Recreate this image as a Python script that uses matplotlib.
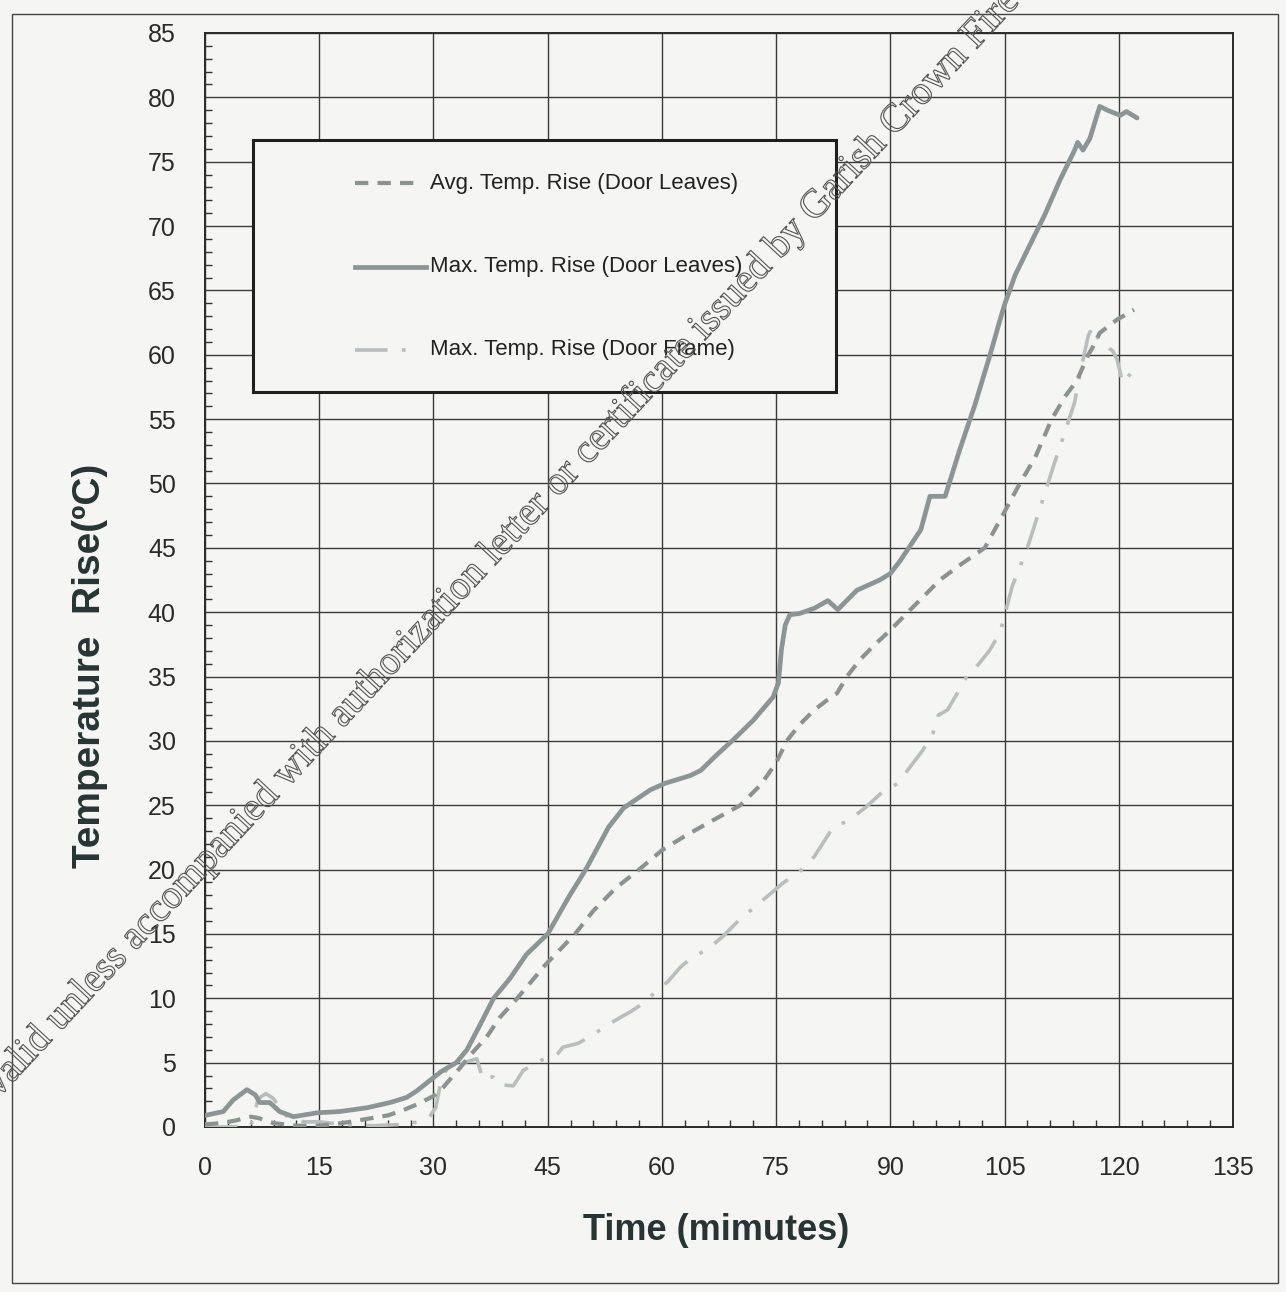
import matplotlib
matplotlib.use("Agg")
import matplotlib.pyplot as plt
import matplotlib.patheffects as pe
from matplotlib.patches import Rectangle
from matplotlib.lines import Line2D
from matplotlib.ticker import MultipleLocator

# === DATA ===
t_max = [0, 2.4, 3.7, 5.5, 6.6, 7.2, 8.5, 9.8, 11.6, 14.7, 17.7, 21.3, 24.3, 26.5, 27.8,
         29.5, 31, 33, 34.4, 36, 37.9, 40, 42.2, 45, 47.9, 50, 53, 55, 58.5, 60.4,
         63.7, 65.1, 67, 69.4, 72, 74.6, 75.3, 75.7, 76.2, 76.8, 78.1, 80, 81.8, 83.1,
         85.6, 88.6, 90, 91.3, 94, 95.2, 97.2, 99.1, 101.1, 103.1, 104.4, 105, 106.4,
         108.3, 110.3, 112.3, 114.2, 114.6, 115.3, 116.2, 117.5, 118.5, 120.2, 121, 122.4]
max_leaves = [0.9, 1.2, 2.1, 2.9, 2.5, 1.9, 1.9, 1.2, 0.8, 1.1, 1.2, 1.5, 1.9, 2.3, 2.8,
              3.6, 4.3, 5.0, 6.0, 7.8, 10.0, 11.5, 13.4, 15.0, 18.0, 20.0, 23.3, 24.8, 26.2, 26.7,
              27.3, 27.7, 28.8, 30.1, 31.6, 33.4, 34.5, 37.1, 39.0, 39.8, 39.9, 40.3, 40.9, 40.2,
              41.7, 42.5, 43.0, 44.0, 46.4, 49.0, 49.0, 52.6, 56.1, 60.0, 62.7, 63.9, 66.2,
              68.5, 70.9, 73.6, 75.9, 76.5, 75.9, 76.8, 79.3, 79.0, 78.6, 78.9, 78.4]

t_avg = [0, 2, 4, 6, 7, 9, 12, 15, 18, 20, 22, 24, 26, 28, 30, 31.3, 33.5, 35, 37, 38.7,
         41, 44.7, 48.6, 51, 54, 57, 60, 63, 66, 70.3, 73, 75, 76.4, 78, 80, 82, 83,
         84.3, 86, 88, 90, 92.3, 94, 96.5, 99, 102.4, 105, 107, 109, 111.2, 113, 114.5,
         116, 116.6, 117.5, 119.7, 122]
avg_leaves = [0.2, 0.3, 0.5, 0.8, 0.7, 0.3, 0.1, 0.1, 0.3, 0.5, 0.7, 0.9, 1.3, 1.8, 2.4, 3.1, 4.6, 5.7, 7.0, 8.5,
              10.0, 12.6, 15.0, 16.8, 18.6, 20.0, 21.5, 22.6, 23.6, 25.0, 26.6, 28.3, 30.0, 31.2, 32.4, 33.3, 33.7,
              35.0, 36.3, 37.5, 38.6, 40.0, 41.0, 42.5, 43.6, 45.0, 47.8, 50.0, 52.0, 55.0, 56.8, 58.0,
              60.0, 60.6, 61.7, 62.7, 63.5]

t_frame = [0, 3, 6, 7, 8, 9, 10, 11, 13, 15, 18, 22, 26, 28, 29.5, 30.3, 30.8, 31.5, 32.2,
           34, 35.7, 36.5, 37.8, 38.5, 40.5, 41.8, 44.2, 46.2, 47, 49, 50.8, 52.5, 54.5, 56,
           57.5, 59, 60.8, 62.4, 64, 66, 68, 70, 72, 74, 76, 78, 80, 82.5, 84.5, 86.9, 88.9,
           91, 92.5, 94.3, 95.6, 96.3, 97.5, 98.8, 100, 101.5, 103, 104.4, 106, 108, 110,
           111.5, 112.7, 114.2, 115, 116, 116.6, 117.5, 119.2, 119.8, 120.5, 121.5, 122.4]
max_frame = [0.0, 0.0, 0.1, 2.2, 2.6, 2.2, 1.3, 0.7, 0.4, 0.4, 0.2, 0.1, 0.2, 0.4, 0.8, 1.5, 3.0, 4.3, 4.6,
             5.0, 5.3, 3.7, 3.9, 3.3, 3.2, 4.4, 5.2, 5.6, 6.2, 6.5, 7.1, 7.8, 8.5, 9.0,
             9.6, 10.4, 11.3, 12.4, 13.2, 13.8, 14.8, 16.0, 17.0, 18.0, 19.0, 19.8, 21.0, 23.3, 23.8, 24.9, 26.0,
             26.7, 27.9, 29.3, 30.6, 32.0, 32.4, 33.7, 35.0, 35.9, 37.0, 38.4, 42.0, 45.0, 48.7,
             51.5, 53.6, 56.3, 58.8, 61.5, 62.2, 61.0, 60.3, 59.6, 57.8, 58.5, 59.3]

rotulos = ['Avg. Temp. Rise (Door Leaves)', 'Max. Temp. Rise (Door Leaves)', 'Max. Temp. Rise (Door Frame)']
WATERMARK = "Not valid unless accompanied with authorization letter or certificate issued by Garish Crown Fire"

# === STYLE ===
FUNDO = '#f5f5f3'
COR_MAX = '#8c9595'
COR_AVG = '#8b9292'
COR_FRAME = '#b9bdbd'
COR_TEXTO = '#263434'
SANS = ['Liberation Sans', 'DejaVu Sans']
ESTILO_AVG = (0, (3.2, 2.2))
ESTILO_FRAME = (0, (9, 4, 1, 4))

fig = plt.figure(figsize=(12.86, 12.92), dpi=100, facecolor=FUNDO)
ax = fig.add_axes([205/1286, 1 - 1127/1292, 1028/1286, 1094/1292], facecolor=FUNDO)

ax.plot(t_frame, max_frame, color=COR_FRAME, lw=2.6, linestyle=ESTILO_FRAME, zorder=3)
ax.plot(t_avg, avg_leaves, color=COR_AVG, lw=3.0, linestyle=ESTILO_AVG, zorder=4)
ax.plot(t_max, max_leaves, color=COR_MAX, lw=3.4, zorder=5, solid_joinstyle='round', solid_capstyle='round')

ax.set_xlim(0, 135)
ax.set_ylim(0, 85)
ax.xaxis.set_major_locator(MultipleLocator(15))
ax.xaxis.set_minor_locator(MultipleLocator(3))
ax.yaxis.set_major_locator(MultipleLocator(5))
ax.yaxis.set_minor_locator(MultipleLocator(1))
ax.grid(which='major', color='#3a3a3a', lw=1.0)
ax.tick_params(which='both', direction='in', colors='#333333', top=False, right=False)
ax.tick_params(which='major', length=0, pad=21, labelsize=18)
ax.tick_params(which='minor', length=5, width=1.0)
for lab in ax.get_xticklabels() + ax.get_yticklabels():
    lab.set_family(SANS)
    lab.set_color('#2a2a2a')
for s in ax.spines.values():
    s.set_color('#2a2a2a')
    s.set_linewidth(1.4)

# axis titles
fig.text(716/1286, 1 - 1230/1292, 'Time (mimutes)', ha='center', va='center',
         fontsize=26, fontweight='bold', family=SANS, color=COR_TEXTO)
fig.text(90/1286, 1 - 666/1292, 'Temperature  Rise(ºC)', ha='center', va='center', rotation=90,
         fontsize=28, fontweight='bold', family=SANS, color=COR_TEXTO)

# === LEGEND (box drawn by hand to keep the wide frame of the original) ===
def px(x, y):
    return ((x - 205) / 1028, (1127 - y) / 1094)

x0, y0 = px(253, 392)
x1, y1 = px(836, 140)
ax.add_patch(Rectangle((x0, y0), x1 - x0, y1 - y0, transform=ax.transAxes, facecolor=FUNDO,
                       edgecolor='#1f1f1f', lw=2.2, zorder=6))
estilos = [(COR_AVG, ESTILO_AVG, 3.0, 420), (COR_MAX, '-', 3.4, 426), (COR_FRAME, ESTILO_FRAME, 2.6, 418)]
for i, (rot, (cor, ls, lw, xf)) in enumerate(zip(rotulos, estilos)):
    yy = 183 + i * 83.5
    a, b = px(355, yy)
    c, _ = px(xf, yy)
    ax.add_line(Line2D([a, c], [b, b], transform=ax.transAxes, color=cor, lw=lw, linestyle=ls, zorder=7))
    tx, _ = px(430, yy)
    ax.text(tx, b, rot, transform=ax.transAxes, ha='left', va='center', fontsize=16,
            family=SANS, color='#222222', zorder=7)

# outer frame of the page
fig.add_artist(Rectangle((12/1286, 1 - 1283/1292), 1266/1286, 1269/1292, transform=fig.transFigure,
                         fill=False, edgecolor='#444444', lw=1.0))

# diagonal watermark (hollow serif letters)
fig.text(-50/1286, 1 - 1150/1292, WATERMARK, rotation=47, rotation_mode='anchor',
         ha='left', va='baseline', fontsize=29, family=['Liberation Serif', 'DejaVu Serif'],
         color='none', zorder=10,
         path_effects=[pe.withStroke(linewidth=0.8, foreground='#555555')])

plt.savefig('out.png', dpi=100, facecolor=FUNDO)
plt.close()
